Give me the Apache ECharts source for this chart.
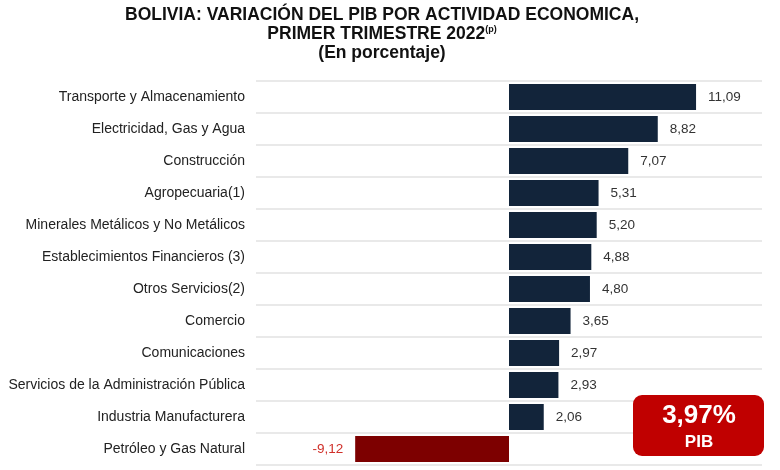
<!DOCTYPE html>
<html>
<head>
<meta charset="utf-8">
<script src="https://cdn.jsdelivr.net/npm/echarts@6/dist/echarts.min.js"></script>
<style>
  html, body { margin: 0; padding: 0; background: #fff; }
  #chart { width: 780px; height: 470px; }
</style>
</head>
<body>
<div id="chart"></div>
<script>
// PIB por actividad economica, primer trimestre 2022
const categories = [
  "Transporte y Almacenamiento",
  "Electricidad, Gas y Agua",
  "Construcción",
  "Agropecuaria(1)",
  "Minerales Metálicos y No Metálicos",
  "Establecimientos Financieros (3)",
  "Otros Servicios(2)",
  "Comercio",
  "Comunicaciones",
  "Servicios de la Administración Pública",
  "Industria Manufacturera",
  "Petróleo y Gas Natural",
];
const values = [11.09, 8.82, 7.07, 5.31, 5.20, 4.88, 4.80, 3.65, 2.97, 2.93, 2.06, -9.12];
const pibTotal = 3.97;

const NAVY = "#12243a";
const DARKRED = "#7d0000";
const FONT = "'Liberation Sans', Arial, sans-serif";

const fmt = (v) => v.toFixed(2).replace(".", ",");

const chart = echarts.init(document.getElementById("chart"), null, { renderer: "canvas" });

chart.setOption({
  animation: false,
  textStyle: { fontFamily: FONT },
  title: {
    left: 377,
    textAlign: "center",
    top: 1,
    text: "{t|BOLIVIA: VARIACIÓN DEL PIB POR ACTIVIDAD ECONOMICA,}\n{t|PRIMER TRIMESTRE 2022}{s|(p)}\n{t|(En porcentaje)}",
    textStyle: {
      rich: {
        t: { fontFamily: FONT, fontSize: 17.5, fontWeight: "bold", color: "#111", lineHeight: 19 },
        s: { fontFamily: FONT, fontSize: 9, fontWeight: "bold", color: "#111", verticalAlign: "top", lineHeight: 19, padding: [0, 0, 6, 0] },
      },
    },
  },
  grid: { left: 256, right: 18, top: 81, bottom: 5 },
  xAxis: {
    type: "value",
    min: -15, max: 15,
    show: false,
  },
  yAxis: {
    type: "category",
    data: categories,
    inverse: true,
    axisLine: { show: false },
    axisTick: { show: false },
    axisLabel: { color: "#222", fontSize: 14, margin: 11, fontFamily: FONT },
    splitLine: { show: true, lineStyle: { color: "#e2e2e2", width: 1.5 } },
  },
  series: [{
    type: "bar",
    barCategoryGap: "18%",
    data: values.map((v) => ({
      value: v,
      itemStyle: { color: v < 0 ? DARKRED : NAVY },
      label: {
        position: v < 0 ? "left" : "right",
        color: v < 0 ? "#d0302a" : "#333",
      },
    })),
    label: {
      show: true,
      fontSize: 13.5,
      distance: 12,
      fontFamily: FONT,
      formatter: (p) => fmt(p.value),
    },
  }],
  graphic: [{
    type: "group",
    left: 633, top: 395,
    z: 100,
    children: [
      { type: "rect", z: 100, shape: { x: 0, y: 0, width: 131, height: 61, r: 9 }, style: { fill: "#c00000" } },
      { type: "text", z: 101, x: 66, y: 21, style: { text: fmt(pibTotal) + "%", fill: "#fff", font: "bold 26px " + FONT, align: "center", verticalAlign: "middle" } },
      { type: "text", z: 101, x: 66, y: 47, style: { text: "PIB", fill: "#fff", font: "bold 17px " + FONT, align: "center", verticalAlign: "middle" } },
    ],
  }],
});
</script>
</body>
</html>
